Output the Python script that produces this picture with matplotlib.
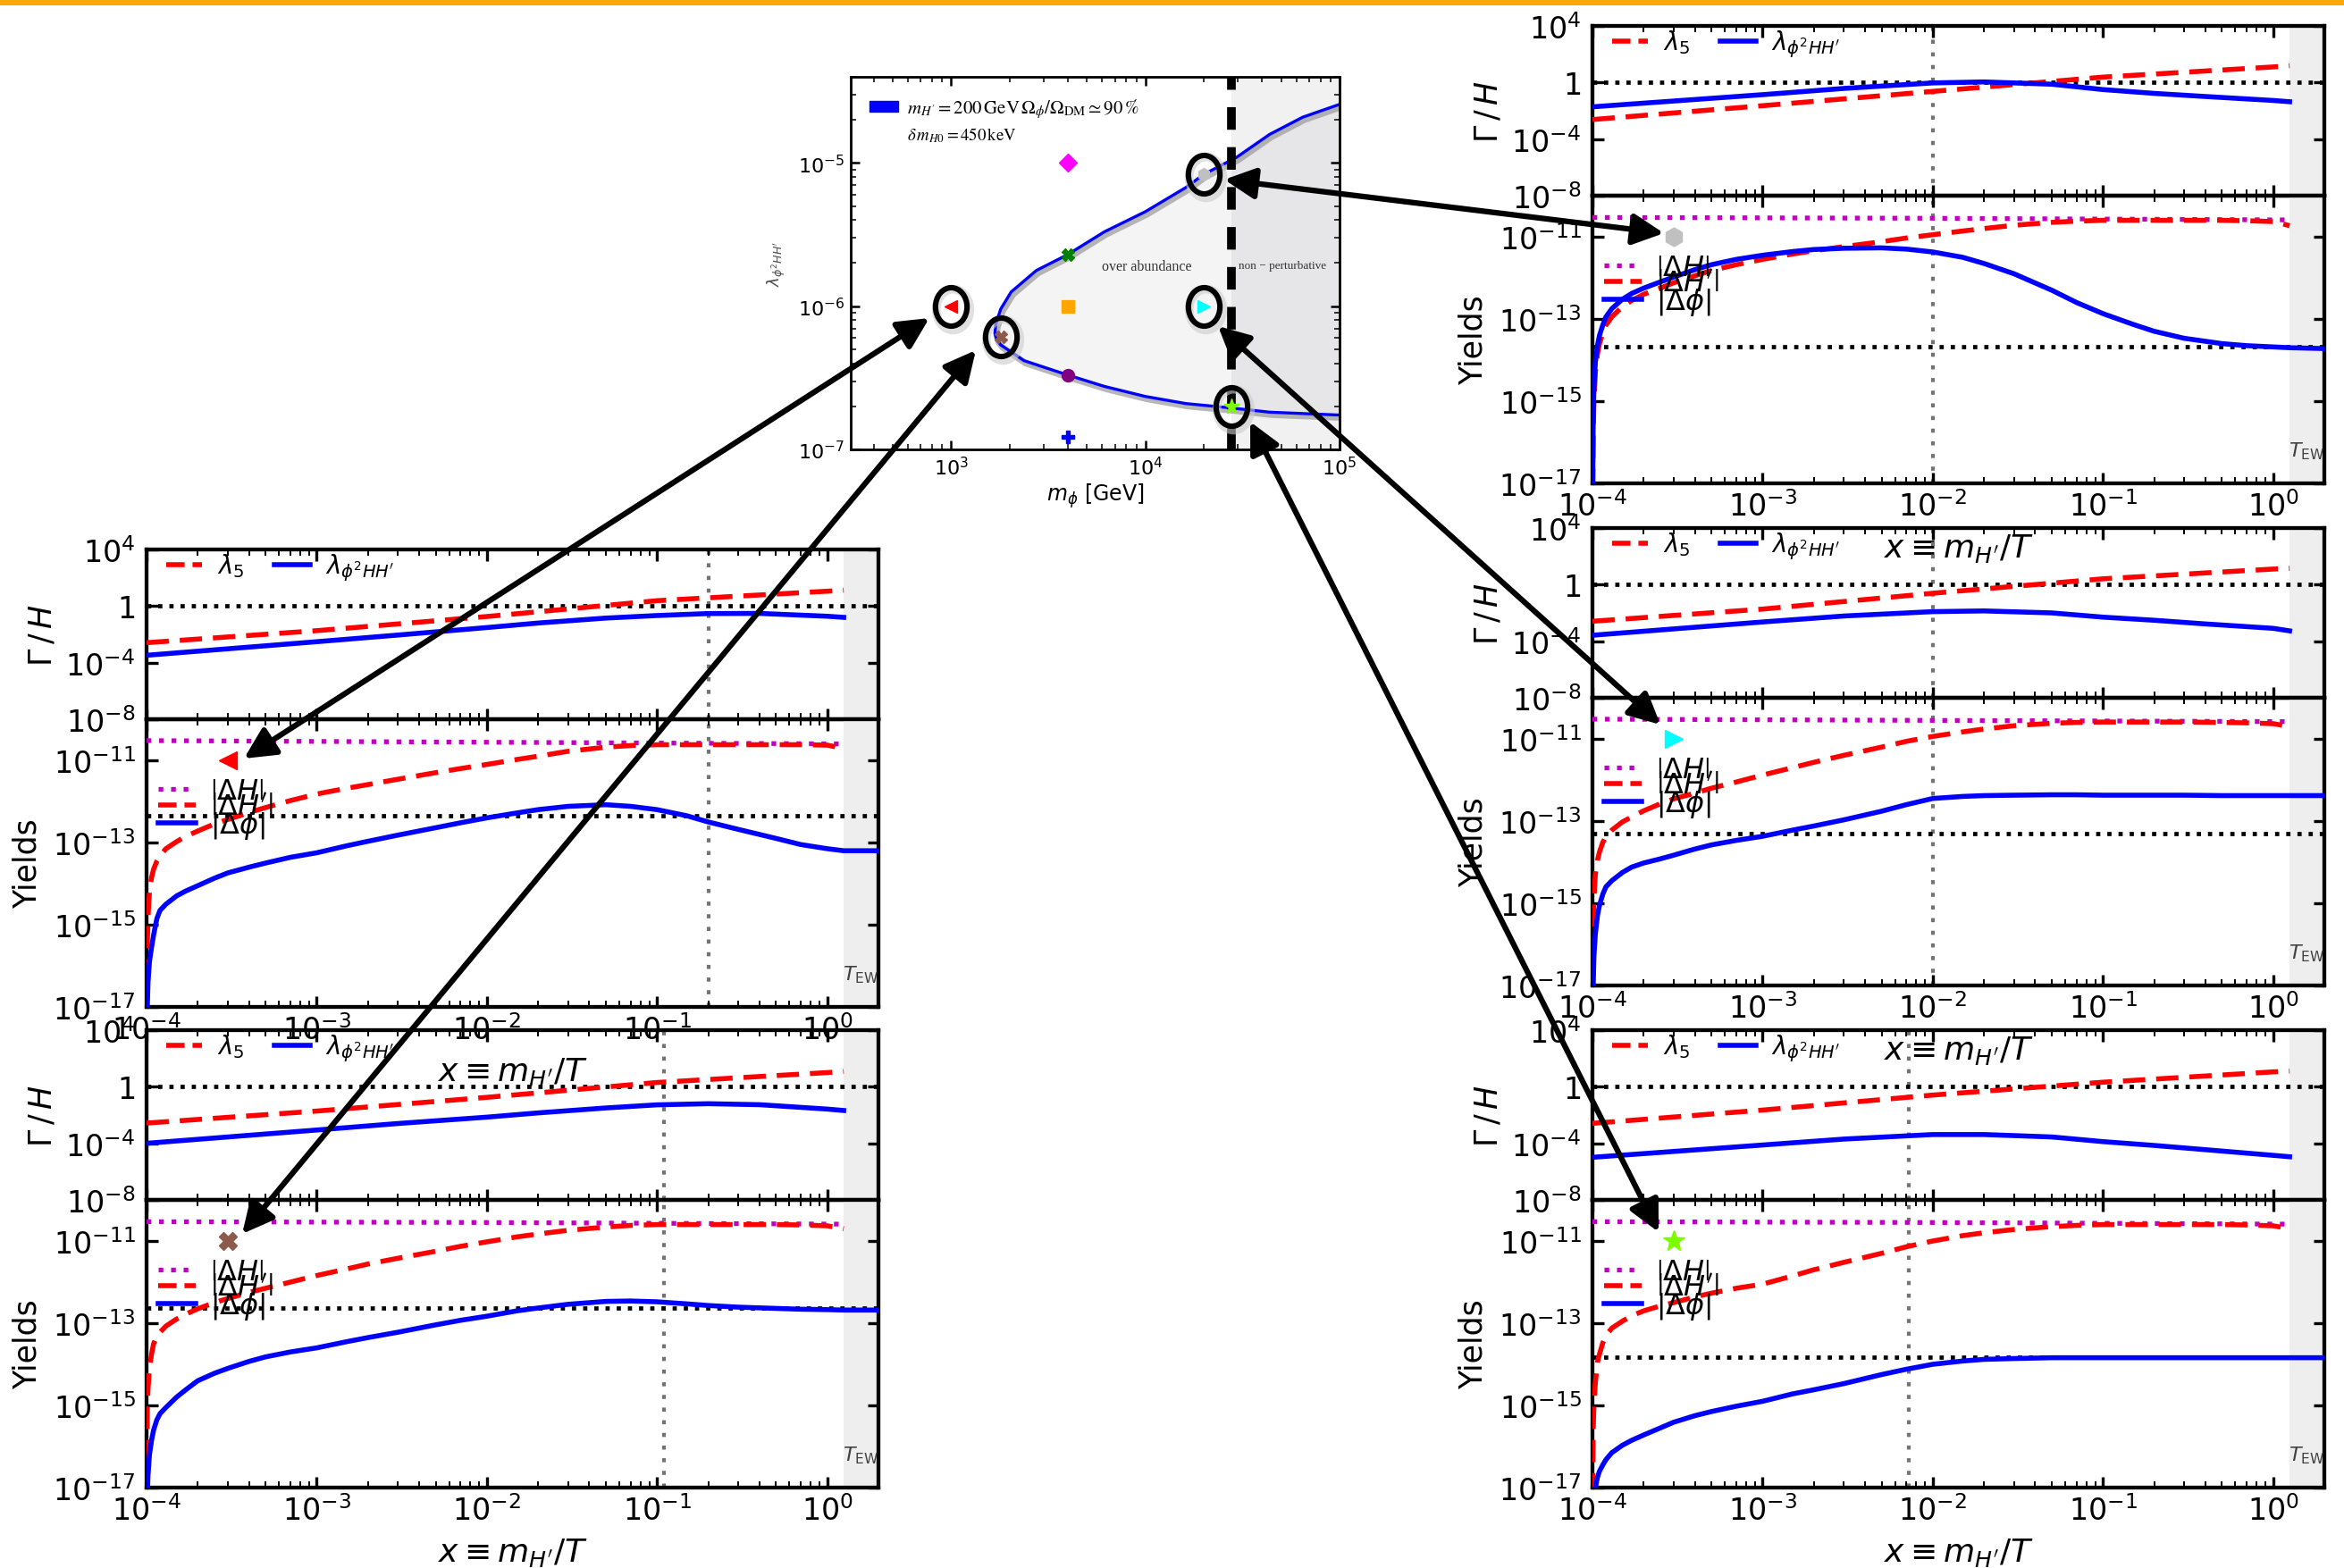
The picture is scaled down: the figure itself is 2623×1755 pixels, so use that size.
import numpy as np
import matplotlib
matplotlib.use("Agg")
import matplotlib.pyplot as plt
from matplotlib.lines import Line2D
from matplotlib.patches import Patch, FancyArrowPatch, Rectangle
from matplotlib.markers import MarkerStyle
from matplotlib.transforms import Affine2D, offset_copy
from matplotlib.ticker import LogLocator, NullLocator, NullFormatter
from matplotlib.font_manager import FontProperties

plt.rcParams['font.family'] = ['DejaVu Sans']
plt.rcParams['mathtext.fontset'] = 'dejavusans'

W, H = 2623, 1756

# ---------------- Gamma/H curves (log10 values) ----------------
x_rate_red = [1e-4, 1e-3, 1e-2, 1e-1, 1.0, 1.25]
x_rate_blue = [1e-4, 1e-3, 3e-3, 1e-2, 2e-2, 5e-2, 0.1, 0.2, 0.4, 1.0, 1.25]

tr_rate_red = [-2.62, -1.64, -0.63, 0.38, 1.10, 1.18]
tr_rate_blue = [-1.72, -0.86, -0.42, -0.03, 0.04, -0.12, -0.50, -0.77, -0.99, -1.27, -1.36]
lt_rate_red = [-2.59, -1.74, -0.74, 0.38, 1.05, 1.12]
lt_rate_blue = [-3.48, -2.52, -2.05, -1.52, -1.20, -0.85, -0.67, -0.53, -0.52, -0.72, -0.80]
lb_rate_red = [-2.57, -1.72, -0.75, 0.30, 1.00, 1.08]
lb_rate_blue = [-4.00, -3.06, -2.60, -2.15, -1.85, -1.50, -1.28, -1.20, -1.27, -1.58, -1.68]
rm_rate_red = [-2.59, -1.73, -0.61, 0.41, 1.10, 1.15]
rm_rate_blue = [-3.58, -2.64, -2.22, -1.91, -1.86, -2.00, -2.30, -2.52, -2.78, -3.09, -3.27]
rb_rate_red = [-2.59, -1.65, -0.59, 0.32, 1.05, 1.10]
rb_rate_blue = [-4.99, -4.12, -3.70, -3.38, -3.38, -3.55, -3.88, -4.15, -4.45, -4.85, -4.95]

# ---------------- Yields (log10 values) ----------------
x_yield = [1.0e-4, 1.01e-4, 1.02e-4, 1.04e-4, 1.07e-4, 1.1e-4, 1.15e-4, 1.2e-4, 1.3e-4,
           1.5e-4, 1.7e-4, 2e-4, 2.5e-4, 3e-4, 4e-4, 5e-4, 7e-4, 1e-3, 1.5e-3, 2e-3,
           3e-3, 5e-3, 7e-3, 1e-2, 1.5e-2, 2e-2, 3e-2, 5e-2, 7e-2, 0.1, 0.15, 0.2, 0.3,
           0.5, 0.7, 1.0, 1.25]
x_yield_blue = x_yield + [2.0]
x_mag = [1e-4, 1e-2, 1.25]

tr_yield_red = [-18, -15.8, -15.0, -14.3, -13.85, -13.6, -13.35, -13.15, -12.95, -12.7,
                -12.55, -12.4, -12.25, -12.12, -11.95, -11.82, -11.68, -11.55, -11.42,
                -11.34, -11.24, -11.12, -11.03, -10.95, -10.86, -10.8, -10.72, -10.65,
                -10.62, -10.6, -10.6, -10.6, -10.6, -10.6, -10.61, -10.63, -10.73]
tr_yield_blue = [-18, -15.5, -14.7, -14.05, -13.65, -13.4, -13.15, -12.95, -12.75, -12.52,
                 -12.38, -12.25, -12.1, -11.98, -11.8, -11.68, -11.55, -11.45, -11.36,
                 -11.31, -11.28, -11.27, -11.3, -11.37, -11.5, -11.65, -11.9, -12.3,
                 -12.6, -12.87, -13.13, -13.3, -13.47, -13.6, -13.65, -13.68, -13.7, -13.72]
tr_yield_mag = [-10.53, -10.55, -10.59]

lt_yield_red = [-18, -15.5, -14.8, -14.2, -13.85, -13.65, -13.45, -13.32, -13.15, -12.98,
                -12.85, -12.72, -12.55, -12.44, -12.27, -12.15, -11.98, -11.82, -11.68,
                -11.59, -11.46, -11.3, -11.2, -11.1, -10.98, -10.9, -10.78, -10.68,
                -10.64, -10.62, -10.62, -10.62, -10.62, -10.62, -10.62, -10.63, -10.71]
lt_yield_blue = [-18, -17.0, -16.4, -15.9, -15.55, -15.25, -14.85, -14.65, -14.5, -14.3,
                 -14.18, -14.05, -13.87, -13.74, -13.6, -13.5, -13.36, -13.25, -13.08,
                 -12.97, -12.82, -12.64, -12.52, -12.4, -12.28, -12.2, -12.12, -12.08,
                 -12.12, -12.2, -12.35, -12.5, -12.68, -12.9, -13.05, -13.15, -13.2, -13.2]
lt_yield_mag = [-10.52, -10.56, -10.6]

lb_yield_red = [-18, -15.0, -14.6, -14.1, -13.75, -13.5, -13.33, -13.22, -13.07, -12.9,
                -12.78, -12.65, -12.5, -12.4, -12.25, -12.15, -12.0, -11.84, -11.68,
                -11.56, -11.42, -11.25, -11.13, -11.02, -10.9, -10.83, -10.74, -10.66,
                -10.62, -10.6, -10.6, -10.6, -10.6, -10.6, -10.61, -10.63, -10.7]
lb_yield_blue = [-18, -17.2, -16.7, -16.2, -15.85, -15.6, -15.35, -15.2, -15.05, -14.8,
                 -14.62, -14.4, -14.22, -14.1, -13.93, -13.82, -13.7, -13.6, -13.45,
                 -13.35, -13.22, -13.04, -12.93, -12.83, -12.7, -12.63, -12.54, -12.47,
                 -12.46, -12.48, -12.53, -12.57, -12.61, -12.64, -12.66, -12.67, -12.68,
                 -12.68]
lb_yield_mag = [-10.53, -10.55, -10.59]

rm_yield_red = [-18, -15.5, -14.9, -14.3, -13.95, -13.75, -13.52, -13.38, -13.22, -13.02,
                -12.9, -12.75, -12.58, -12.46, -12.32, -12.2, -12.05, -11.88, -11.7,
                -11.57, -11.4, -11.2, -11.06, -10.94, -10.83, -10.76, -10.68, -10.62,
                -10.6, -10.59, -10.59, -10.59, -10.59, -10.6, -10.61, -10.63, -10.7]
rm_yield_blue = [-18, -17.0, -16.3, -15.75, -15.3, -15.05, -14.78, -14.6, -14.45, -14.25,
                 -14.12, -14.02, -13.92, -13.83, -13.68, -13.58, -13.47, -13.37, -13.22,
                 -13.12, -12.97, -12.76, -12.6, -12.45, -12.4, -12.38, -12.37, -12.36,
                 -12.36, -12.37, -12.37, -12.37, -12.37, -12.38, -12.38, -12.38, -12.38,
                 -12.38]
rm_yield_mag = [-10.52, -10.55, -10.58]

rb_yield_red = [-18, -15.6, -15.0, -14.45, -13.95, -13.75, -13.48, -13.3, -13.12, -12.95,
                -12.82, -12.7, -12.58, -12.5, -12.36, -12.27, -12.15, -12.05, -11.85,
                -11.7, -11.52, -11.3, -11.14, -11.0, -10.87, -10.8, -10.72, -10.65,
                -10.62, -10.6, -10.6, -10.6, -10.6, -10.6, -10.61, -10.63, -10.7]
rb_yield_blue = [-18, -17.6, -17.3, -17.0, -16.75, -16.6, -16.45, -16.32, -16.15, -15.97,
                 -15.85, -15.72, -15.55, -15.41, -15.25, -15.15, -15.02, -14.9, -14.72,
                 -14.62, -14.47, -14.25, -14.12, -14.0, -13.92, -13.88, -13.86, -13.84,
                 -13.84, -13.84, -13.84, -13.84, -13.84, -13.84, -13.84, -13.84, -13.84,
                 -13.84]
rb_yield_mag = [-10.53, -10.55, -10.59]

# observed yield (black dotted) and vertical marker per panel
hline_log = {'tr': -13.68, 'lt': -12.35, 'lb': -12.63, 'rm': -13.30, 'rb': -13.82}
vline_x = {'tr': 1e-2, 'lt': 0.2, 'lb': 0.11, 'rm': 1e-2, 'rb': 7.2e-3}
x_ew = 1.25
x_max = 2.0

# ---------------- parameter-space panel ----------------
curve_logm = [5.0, 4.81, 4.64, 4.47, 4.3, 4.21, 4.0, 3.79, 3.6, 3.44, 3.31, 3.256, 3.23,
              3.226, 3.235, 3.256, 3.376, 3.6, 3.79, 4.0, 4.21, 4.44, 4.64, 5.0]
curve_loglam = [-4.59, -4.68, -4.8, -4.96, -5.08, -5.17, -5.34, -5.48, -5.64, -5.75, -5.9,
                -6.02, -6.13, -6.19, -6.23, -6.27, -6.38, -6.48, -6.56, -6.63, -6.68, -6.71,
                -6.74, -6.76]
m_nonpert = 2.78e4
bench_m = [4e3, 4e3, 4e3, 4e3, 4e3, 1.0e3, 1.8e3, 2e4, 2e4, 2.78e4]
bench_lam = [1e-5, 2.3e-6, 1e-6, 3.3e-7, 1.22e-7, 1e-6, 6.1e-7, 8.3e-6, 1e-6, 2.0e-7]
bench_marker = ['D', 'X', 's', 'o', 'P', '<', 'X', 'h', '>', '*']
bench_color = ['magenta', 'green', 'orange', 'purple', 'blue', 'red', '#8c5a4b',
               'silver', 'cyan', 'lawngreen']
circled = [5, 6, 7, 8, 9]

fig = plt.figure(figsize=(W / 100, H / 100), dpi=100)

LW = 4.0
RED_DASH = (0, (4.5, 2.2))


def px_axes(x0, y0, x1, y1):
    return fig.add_axes([x0 / W, 1 - y1 / H, (x1 - x0) / W, (y1 - y0) / H])


def fig_pt(x, y):
    return (x / W, 1 - y / H)


def style_axes(ax):
    ax.set_xscale('log')
    ax.set_yscale('log')
    ax.set_facecolor('none')
    for s in ax.spines.values():
        s.set_linewidth(3.1)
    ax.tick_params(which='both', direction='in', top=True, right=True)
    ax.tick_params(which='major', length=9, width=2.4, labelsize=24, pad=6)
    ax.tick_params(which='minor', length=5, width=1.4)
    ax.tick_params(axis='y', which='major', pad=9)
    ax.set_xticks([1e-4, 1e-3, 1e-2, 1e-1, 1.0],
                  labels=[r'$10^{-4}$', r'$10^{-3}$', r'$10^{-2}$', r'$10^{-1}$', r'$10^{0}$'])
    ax.xaxis.set_minor_locator(LogLocator(base=10, subs=np.arange(2, 10)))
    ax.xaxis.set_minor_formatter(NullFormatter())
    ax.yaxis.set_minor_locator(NullLocator())
    ax.set_xlim(1e-4, x_max)
    ax.axvspan(x_ew, x_max, color='#eeeeee', lw=0, zorder=0)


def draw_panel(x0, y0, key, up_red, up_blue, lo_red, lo_blue, lo_mag, mk, mcol, msize):
    ax_up = px_axes(x0, y0, x0 + 819, y0 + 190)
    ax_lo = px_axes(x0, y0 + 190, x0 + 819, y0 + 512)
    for ax in (ax_up, ax_lo):
        style_axes(ax)
        ax.axvline(vline_x[key], color='0.45', lw=3.0, ls=(0, (1.1, 2.3)), zorder=1)

    # rates
    ax_up.axhline(1.0, color='k', lw=3.4, ls=':', zorder=1)
    ax_up.plot(x_rate_red, 10 ** np.array(up_red), color='red', ls=RED_DASH, lw=LW, zorder=3)
    ax_up.plot(x_rate_blue, 10 ** np.array(up_blue), color='blue', lw=LW, zorder=3)
    ax_up.set_ylim(1e-8, 1e4)
    ax_up.set_yticks([1e4, 1, 1e-4, 1e-8],
                     labels=[r'$10^{4}$', r'$1$', r'$10^{-4}$', r'$10^{-8}$'])
    ax_up.yaxis.set_minor_locator(NullLocator())
    ax_up.tick_params(labelbottom=False)
    ax_up.set_ylabel(r'$\Gamma\,/\,H$', fontsize=25)
    ax_up.yaxis.set_label_coords(-0.122, 0.5)
    up_handles = [Line2D([], [], color='red', ls='--', lw=LW),
                  Line2D([], [], color='blue', lw=LW)]
    ax_up.legend(up_handles, [r'$\lambda_5$', r'$\lambda_{\phi^2 HH^\prime}$'],
                 loc='center left', bbox_to_anchor=(0.027, 0.895), ncol=2, frameon=False,
                 fontsize=20, handlelength=1.45, handletextpad=0.6, columnspacing=1.2,
                 borderpad=0, borderaxespad=0)

    # yields
    ax_lo.axhline(10 ** hline_log[key], color='k', lw=3.4, ls=':', zorder=1)
    ax_lo.plot(x_mag, 10 ** np.array(lo_mag), color='m', ls=':', lw=3.8, zorder=3)
    ax_lo.plot(x_yield, 10 ** np.array(lo_red), color='red', ls=RED_DASH, lw=LW, zorder=3)
    ax_lo.plot(x_yield_blue, 10 ** np.array(lo_blue), color='blue', lw=LW, zorder=4)
    ax_lo.plot([3e-4], [1e-11], marker=mk, color=mcol, ms=msize, ls='none', zorder=5)
    ax_lo.set_ylim(1e-17, 1e-10)
    ax_lo.set_yticks([1e-11, 1e-13, 1e-15, 1e-17],
                     labels=[r'$10^{-11}$', r'$10^{-13}$', r'$10^{-15}$', r'$10^{-17}$'])
    ax_lo.yaxis.set_minor_locator(NullLocator())
    ax_lo.set_ylabel('Yields', fontsize=25)
    ax_lo.yaxis.set_label_coords(-0.142, 0.5)
    ax_lo.set_xlabel(r'$x\equiv m_{H^\prime}/T$', fontsize=26, labelpad=8)
    ax_lo.text(1.57, 10 ** -16.2, r'$T_{\rm EW}$', fontsize=16, color='0.25',
               ha='center', va='center')
    lo_handles = [Line2D([], [], color='m', ls=':', lw=3.8),
                  Line2D([], [], color='red', ls='--', lw=LW),
                  Line2D([], [], color='blue', lw=LW)]
    ax_lo.legend(lo_handles, [r'$\left|\Delta H\right|$', r'$\left|\Delta H^\prime\right|$',
                              r'$\left|\Delta\phi\right|$'],
                 loc='center left', bbox_to_anchor=(0.016, 0.688), frameon=False,
                 fontsize=23, handlelength=1.3, handletextpad=0.5, labelspacing=-0.4,
                 borderpad=0, borderaxespad=0)


draw_panel(1782, 30, 'tr', tr_rate_red, tr_rate_blue, tr_yield_red, tr_yield_blue,
           tr_yield_mag, 'h', 'silver', 15)
draw_panel(1782, 592, 'rm', rm_rate_red, rm_rate_blue, rm_yield_red, rm_yield_blue,
           rm_yield_mag, '>', 'cyan', 15)
draw_panel(1782, 1154, 'rb', rb_rate_red, rb_rate_blue, rb_yield_red, rb_yield_blue,
           rb_yield_mag, '*', 'lawngreen', 18)
draw_panel(164, 616, 'lt', lt_rate_red, lt_rate_blue, lt_yield_red, lt_yield_blue,
           lt_yield_mag, '<', 'red', 15)
draw_panel(164, 1154, 'lb', lb_rate_red, lb_rate_blue, lb_yield_red, lb_yield_blue,
           lb_yield_mag, 'X', '#8c5a4b', 15)

# ---------------- parameter-space panel ----------------
axc = px_axes(952, 87, 1499, 504)
axc.set_xscale('log')
axc.set_yscale('log')
cm = 10 ** np.array(curve_logm)
cl = 10 ** np.array(curve_loglam)
axc.axvspan(m_nonpert, 1e5, color='#f1f1f1', lw=0, zorder=0)
axc.fill(cm, cl, color='#f4f4f4', lw=0, zorder=0.5)
dark = axc.fill(cm, cl, color='#e6e6e8', lw=0, zorder=0.6)[0]
dark.set_clip_path(Rectangle((m_nonpert, 1e-8), 1e6, 1e-3, transform=axc.transData))
axc.plot(cm, cl, color='0.6', lw=5, alpha=0.7, zorder=1,
         transform=offset_copy(axc.transData, fig=fig, x=2, y=-3, units='dots'))
axc.plot(cm, cl, color='blue', lw=2.4, zorder=2)
axc.axvline(m_nonpert, color='k', lw=7, ls=(0, (2.6, 2.0)), zorder=3)
for i, (m, lam) in enumerate(zip(bench_m, bench_lam)):
    axc.plot([m], [lam], marker=bench_marker[i], color=bench_color[i],
             ms=10 if bench_marker[i] != '*' else 13, ls='none', zorder=4)
ring = MarkerStyle('o', fillstyle='none', transform=Affine2D().scale(0.82, 1.0))
for i in circled:
    axc.plot([bench_m[i]], [bench_lam[i]], marker=ring, ms=33, mew=7, color='0.8',
             alpha=0.6, ls='none', zorder=4.5,
             transform=offset_copy(axc.transData, fig=fig, x=2, y=-3, units='dots'))
    axc.plot([bench_m[i]], [bench_lam[i]], marker=ring, ms=31, mew=4.4, color='k',
             ls='none', zorder=5)
axc.text(1.02e4, 1.9e-6, 'over abundance', family='Liberation Serif', fontsize=11.5,
         color='0.2', ha='center', va='center', zorder=4)
axc.text(5.1e4, 1.93e-6, 'non \u2212 perturbative', family='Liberation Serif', fontsize=9.5,
         color='0.2', ha='center', va='center', zorder=4)
axc.set_xlim(305, 1e5)
axc.set_ylim(1e-7, 4e-5)
axc.set_xticks([1e3, 1e4, 1e5], labels=[r'$10^{3}$', r'$10^{4}$', r'$10^{5}$'])
axc.set_yticks([1e-7, 1e-6, 1e-5], labels=[r'$10^{-7}$', r'$10^{-6}$', r'$10^{-5}$'])
axc.xaxis.set_minor_locator(LogLocator(base=10, subs=np.arange(2, 10)))
axc.yaxis.set_minor_locator(LogLocator(base=10, subs=np.arange(2, 10)))
axc.xaxis.set_minor_formatter(NullFormatter())
axc.yaxis.set_minor_formatter(NullFormatter())
axc.tick_params(which='both', direction='in', top=True, right=True)
axc.tick_params(which='major', length=7, width=1.8, labelsize=16, pad=5)
axc.tick_params(which='minor', length=4, width=1.1)
for s in axc.spines.values():
    s.set_linewidth(2.0)
axc.set_xlabel(r'$m_\phi$ [GeV]', fontsize=17, labelpad=2)
axc.set_ylabel(r'$\lambda_{\phi^2 HH^\prime}$', fontsize=13, color='0.3')
axc.yaxis.set_label_coords(-0.13, 0.5)
leg = axc.legend([Patch(color='blue')],
                 [r'$m_{H^\prime}=200\,\mathrm{GeV}\,\Omega_\phi/\Omega_{\rm DM}\simeq 90\,\%$'],
                 loc='center left', bbox_to_anchor=(0.038, 0.916), frameon=False,
                 prop=FontProperties(size=15, math_fontfamily='stix'),
                 handlelength=1.55, handleheight=0.5, handletextpad=0.5,
                 borderpad=0, borderaxespad=0)
axc.text(0.115, 0.844, r'$\delta\,m_{H0}=450\,\mathrm{keV}$', transform=axc.transAxes,
         fontsize=13.5, math_fontfamily='stix', va='center', ha='left')

# ---------------- decorations ----------------
fig.add_artist(Rectangle((0, 1 - 7 / H), 1, 7 / H, transform=fig.transFigure,
                         color='#fba900', lw=0, zorder=5))

arrows = [((1370, 202), (1862, 262)),
          ((1040, 357), (273, 850)),
          ((1092, 393), (271, 1382)),
          ((1363, 366), (1858, 812)),
          ((1399, 473), (1856, 1380))]
for a, b in arrows:
    fig.add_artist(FancyArrowPatch(fig_pt(*a), fig_pt(*b), transform=fig.transFigure,
                                   arrowstyle='<|-|>,head_length=1.0,head_width=0.5',
                                   mutation_scale=21, lw=4.5, color='k',
                                   shrinkA=0, shrinkB=0, zorder=20))

fig.savefig('out.png', dpi=100)
